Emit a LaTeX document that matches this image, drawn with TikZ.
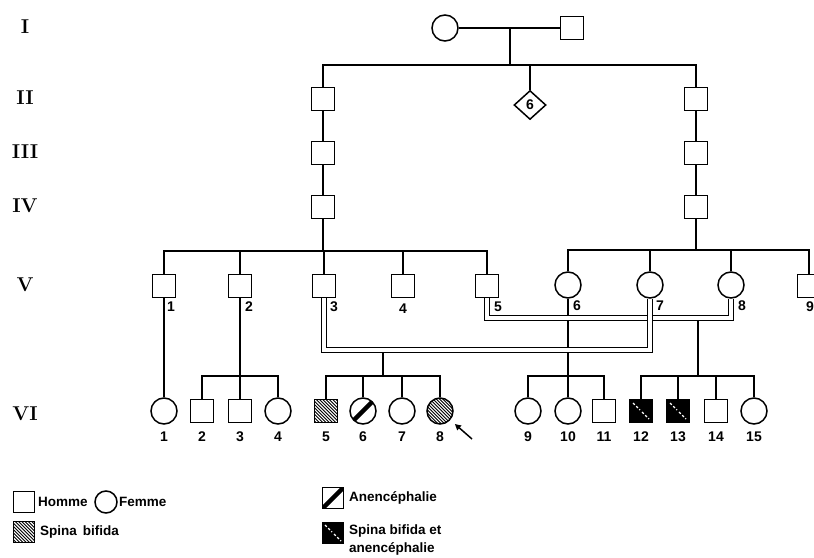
\documentclass[tikz,border=0pt]{standalone}
\usepackage{fontspec}
\setsansfont{Liberation Sans}
\usetikzlibrary{shapes.geometric,arrows.meta}
\tikzset{
  ped/.style={line width=1.5pt},
  male/.style={draw, rectangle, minimum size=23pt, inner sep=0pt, line width=1.5pt},
  female/.style={draw, circle, minimum size=26pt, inner sep=0pt, line width=1.5pt},
  dbl/.style={double, double distance=3.4pt, line width=1.4pt},
  numlbl/.style={font=\fontsize{14}{14}\sffamily\bfseries, inner sep=0pt},
  genlbl/.style={font=\fontsize{20}{20}\bfseries, inner sep=0pt},
  keylbl/.style={font=\fontsize{13.5}{13.5}\sffamily\bfseries, inner sep=0pt, anchor=west},
  sbfill/.style={fill=black, path picture={
    \foreach \k in {-10,...,10}
      \draw[white, line width=1.1pt] (path picture bounding box.center) ++(\k*3.3pt-14pt,14pt) -- ++(28pt,-28pt);}},
  anfill/.style={path picture={
    \draw[line width=4.5pt] (path picture bounding box.south west) -- (path picture bounding box.north east);}},
  sbanfill/.style={fill=black, path picture={
    \draw[white, line width=1.2pt, dash pattern=on 2.5pt off 2pt] (path picture bounding box.center) ++(-8pt,8pt) -- ++(7pt,-7pt);
    \draw[white, line width=1.2pt, dash pattern=on 2.5pt off 2pt] (path picture bounding box.center) ++(1pt,-1pt) -- ++(7pt,-7pt);}},
}
\begin{document}
\begin{tikzpicture}[x=1pt,y=-1pt]
\useasboundingbox (0,0) rectangle (814,557);
\clip (0,0) rectangle (814,557);

% generation labels
\node[genlbl] (gI) at (25,27) {I};
\node[genlbl] (gII) at (25,98) {II};
\node[genlbl] (gIII) at (25,152) {III};
\node[genlbl] (gIV) at (25,206) {IV};
\node[genlbl] (gV) at (25,285) {V};
\node[genlbl] (gVI) at (25,414) {VI};

% generations I to IV
\node[female] (I1) at (445,28) {};
\node[male] (I2) at (572,28) {};
\coordinate (cI) at (510,28);
\coordinate (sII) at (510,65);
\node[male] (II1) at (323,99) {};
\node[diamond, draw, line width=1.5pt, minimum width=32pt, minimum height=29pt, inner sep=0pt, numlbl] (II2) at (530,105) {6};
\node[male] (II3) at (696,99) {};
\node[male] (III1) at (323,153) {};
\node[male] (III2) at (696,153) {};
\node[male] (IV1) at (323,207) {};
\node[male] (IV2) at (696,207) {};

\draw[ped] (I1) -- (I2);
\draw[ped] (cI) -- (sII);
\draw[ped] (II1.north) |- (sII) -| (II3.north);
\draw[ped] (II2.north) -- (II2.north |- sII);
\draw[ped] (II1) -- (III1) -- (IV1);
\draw[ped] (II3) -- (III2) -- (IV2);

% generation V
\node[male] (V1) at (164,286) {};
\node[male] (V2) at (240,286) {};
\node[male] (V3) at (324,286) {};
\node[male] (V4) at (403,286) {};
\node[male] (V5) at (487,286) {};
\node[female] (V6) at (568,285) {};
\node[female] (V7) at (650,285) {};
\node[female] (V8) at (731,285) {};
\node[male] (V9) at (809,286) {};

\node[numlbl] (lV1) at (171,307) {1};
\node[numlbl] (lV2) at (249,307) {2};
\node[numlbl] (lV3) at (334,307) {3};
\node[numlbl] (lV4) at (403,309) {4};
\node[numlbl] (lV5) at (498,307) {5};
\node[numlbl] (lV6) at (577,306) {6};
\node[numlbl] (lV7) at (660,306) {7};
\node[numlbl] (lV8) at (742,306) {8};
\node[numlbl] (lV9) at (810,307) {9};

\coordinate (sVa) at (323,251);
\coordinate (sVb) at (696,250);
\draw[ped] (IV1) -- (sVa);
\draw[ped] (V1.north) |- (sVa) -| (V5.north);
\foreach \n in {2,3,4} \draw[ped] (V\n.north) -- (V\n.north |- sVa);
\draw[ped] (IV2) -- (sVb);
\draw[ped] (V6.north) |- (sVb) -| (V9.north);
\foreach \n in {7,8} \draw[ped] (V\n.north) -- (V\n.north |- sVb);

% unions
\coordinate (m36) at (568,350);
\coordinate (m37) at (383,350);
\coordinate (m58) at (698,318);
\draw[ped] (V6) -- (m36);
\draw[dbl] (V5.south) |- (m58) -| (V8.south);
\draw[dbl] (V3.south) |- (m37) -| (V7.south);

% generation VI
\node[female] (VI1) at (164,411) {};
\node[male] (VI2) at (202,411) {};
\node[male] (VI3) at (240,411) {};
\node[female] (VI4) at (278,411) {};
\node[male, sbfill] (VI5) at (326,411) {};
\node[female, anfill] (VI6) at (363,411) {};
\node[female] (VI7) at (402,411) {};
\node[female, sbfill] (VI8) at (440,411) {};
\node[female] (VI9) at (528,411) {};
\node[female] (VI10) at (568,411) {};
\node[male] (VI11) at (604,411) {};
\node[male, sbanfill] (VI12) at (641,411) {};
\node[male, sbanfill] (VI13) at (678,411) {};
\node[male] (VI14) at (716,411) {};
\node[female] (VI15) at (754,411) {};

\foreach \n/\x in {1/164,2/202,3/240,4/278,5/326,6/363,7/402,8/440,9/528,10/568,11/604,12/641,13/678,14/716,15/754}
  \node[numlbl] (lVI\n) at (\x,437) {\n};

\coordinate (sVIa) at (240,376);
\coordinate (sVIb) at (383,376);
\coordinate (sVIc) at (568,376);
\coordinate (sVId) at (698,376);
\draw[ped] (V1) -- (VI1);
\draw[ped] (V2) -- (VI3);
\draw[ped] (VI2.north) |- (sVIa) -| (VI4.north);
\draw[ped] ([yshift=-3pt]m37) -- (sVIb);
\draw[ped] (VI5.north) |- (sVIb) -| (VI8.north);
\foreach \n in {6,7} \draw[ped] (VI\n.north) -- (VI\n.north |- sVIb);
\draw[ped] ([yshift=-3pt]m36) -- (VI10);
\draw[ped] (VI9.north) |- (sVIc) -| (VI11.north);
\draw[ped] ([yshift=-3pt]m58) -- (sVId);
\draw[ped] (VI12.north) |- (sVId) -| (VI15.north);
\foreach \n in {13,14} \draw[ped] (VI\n.north) -- (VI\n.north |- sVId);

% proband
\coordinate (arrS) at (472,439);
\draw[ped, -{Triangle[length=6pt,width=6pt]}, shorten >=6pt] (arrS) -- (VI8);

% legend
\node[male, minimum size=21pt] (kH) at (24,502) {};
\node[keylbl] (tH) at (38,502) {Homme};
\node[female, minimum size=22pt] (kF) at (106,502) {};
\node[keylbl] (tF) at (119,502) {Femme};
\node[male, sbfill, minimum size=21pt] (kSB) at (24,532) {};
\node[keylbl] (tSB) at (40,532) {Spina\, bifida};
\node[male, anfill, minimum size=21pt] (kA) at (333,498) {};
\node[keylbl] (tA) at (349,498) {Anencéphalie};
\node[male, sbanfill, minimum size=21pt] (kSA) at (333,533) {};
\node[keylbl] (tSA1) at (349,531) {Spina bifida et};
\node[keylbl] (tSA2) at (349,549) {anencéphalie};
\end{tikzpicture}
\end{document}
